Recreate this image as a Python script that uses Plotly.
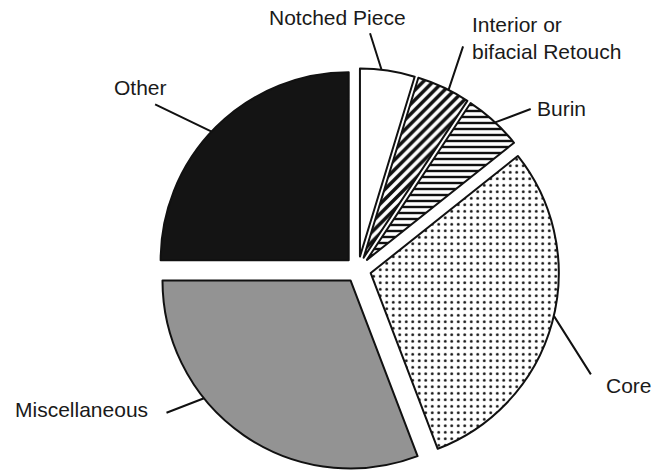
import math
import plotly.graph_objects as go

# ---- data ----
labels = ["Notched Piece", "Interior or bifacial Retouch", "Burin", "Core", "Miscellaneous", "Other"]
label_text = ["Notched Piece", "Interior or<br>bifacial Retouch", "Burin", "Core", "Miscellaneous", "Other"]
values = [4.7, 4.6, 5.0, 29.9, 30.8, 25.0]

# ---- styles ----
base_colors = ["#ffffff", "#ffffff", "#ffffff", "#ffffff", "#939393", "#141414"]
shapes = ["", "/", "-", ".", "", ""]
pattern_sizes = [6, 7, 6, 6.5, 6, 6]
pattern_solid = [0.3, 0.5, 0.4, 0.15, 0.3, 0.3]
pull = 0.07

W, H = 653, 472
dom_x = [0.2401, 0.8564]
dom_y = [0.0017, 0.8559]

# leader-line attachment (fraction along each slice), tail and text offsets in px
attach_frac = [0.39, 0.6, 0.53, 0.48, 0.65, 0.48]
tail_off = [(-12, -38), (15, -45), (37, -14), (38, 60), (-39, 15), (-58, -28)]
text_off = [(-44, -52), (21, -52), (40, -14), (50, 70), (-54, 11), (-43, -44)]
text_anchor = ["center", "left", "left", "left", "right", "right"]

fig = go.Figure(go.Pie(
    labels=labels, values=values, sort=False, direction="clockwise", rotation=0,
    pull=[pull] * len(values), textinfo="none", hoverinfo="label+percent",
    domain=dict(x=dom_x, y=dom_y),
    marker=dict(
        colors=base_colors,
        line=dict(color="#111111", width=2),
        pattern=dict(shape=shapes, fgcolor="#111111", bgcolor=base_colors,
                     size=pattern_sizes, solidity=pattern_solid, fillmode="replace"),
    ),
    showlegend=False,
))

# geometry as plotly computes it
box_w = W * (dom_x[1] - dom_x[0])
box_h = H * (dom_y[1] - dom_y[0])
R = min(box_w, box_h) / (2 + 2 * pull)
cx = W * (dom_x[0] + dom_x[1]) / 2
cy = H * (1 - dom_y[0]) - box_h / 2

total = sum(values)
annotations = []
start = 0.0
for i, v in enumerate(values):
    span = 360.0 * v / total
    mid = math.radians(start + span / 2)
    att = math.radians(start + span * attach_frac[i])
    px = cx + R * pull * math.sin(mid) + R * math.sin(att)
    py = cy - R * pull * math.cos(mid) - R * math.cos(att)
    start += span
    xp, yp = px / W, 1 - py / H
    annotations.append(dict(
        x=xp, y=yp, xref="paper", yref="paper", text="", showarrow=True,
        arrowhead=0, arrowwidth=2, arrowcolor="#111111",
        ax=tail_off[i][0], ay=tail_off[i][1], axref="pixel", ayref="pixel",
    ))
    tx = (px + text_off[i][0]) / W
    ty = 1 - (py + text_off[i][1]) / H
    annotations.append(dict(
        x=tx, y=ty, xref="paper", yref="paper", text=label_text[i], showarrow=False,
        xanchor=text_anchor[i], yanchor="middle", align="left",
        font=dict(family="Liberation Sans, Arial", size=21, color="#1a1a1a"),
    ))

fig.update_layout(
    width=W, height=H, margin=dict(l=0, r=0, t=0, b=0),
    paper_bgcolor="white", plot_bgcolor="white",
    annotations=annotations,
)

fig.write_html("out.html", config={"displayModeBar": False},
               post_script="document.body.style.margin='0px';")
